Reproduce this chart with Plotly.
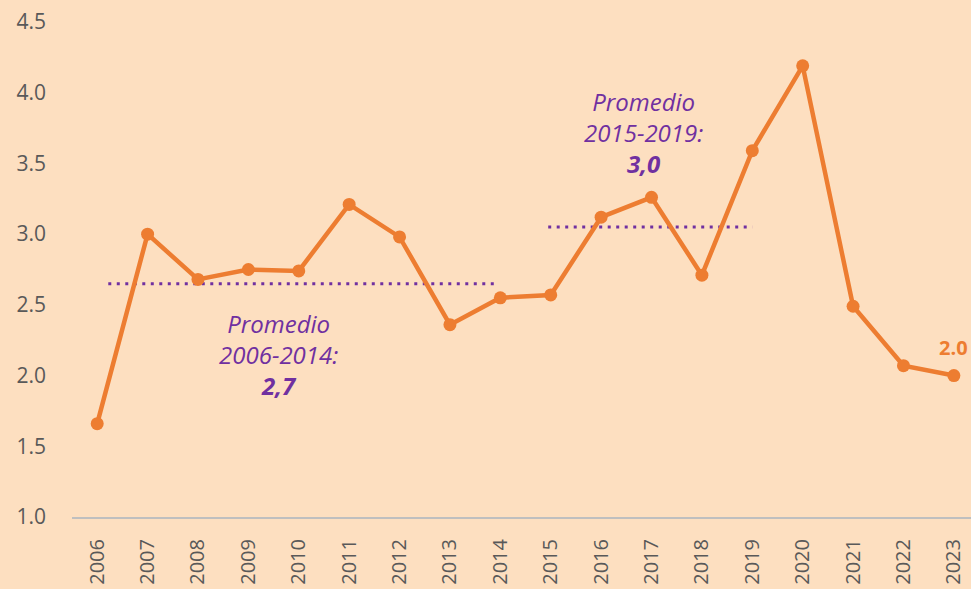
import plotly.graph_objects as go

years = ["2006", "2007", "2008", "2009", "2010", "2011", "2012", "2013", "2014",
         "2015", "2016", "2017", "2018", "2019", "2020", "2021", "2022", "2023"]
values = [1.66, 3.00, 2.68, 2.75, 2.74, 3.21, 2.98, 2.36, 2.55,
          2.57, 3.12, 3.26, 2.71, 3.59, 4.19, 2.49, 2.07, 2.00]
avg1_span = [0.22, 7.95]
avg1_value = 2.65
avg2_span = [8.95, 13.0]
avg2_value = 3.05
y_ticks = [1.0, 1.5, 2.0, 2.5, 3.0, 3.5, 4.0, 4.5]

BG = "#FDDFC0"
ORANGE = "#ED7D31"
PURPLE = "#7030A0"
GRAY = "#595959"

idx = list(range(len(years)))

fig = go.Figure()
fig.add_trace(go.Scatter(x=avg1_span, y=[avg1_value, avg1_value], mode="lines",
                         line=dict(color=PURPLE, width=3, dash="3px,5.5px"),
                         hoverinfo="skip", showlegend=False))
fig.add_trace(go.Scatter(x=avg2_span, y=[avg2_value, avg2_value], mode="lines",
                         line=dict(color=PURPLE, width=3, dash="3px,5.5px"),
                         hoverinfo="skip", showlegend=False))
fig.add_trace(go.Scatter(x=idx, y=values, mode="lines+markers",
                         line=dict(color=ORANGE, width=4.5),
                         marker=dict(color=ORANGE, size=13),
                         showlegend=False))

fig.add_annotation(x=3.6, y=2.15, xref="x", yref="y",
                   text="<i>Promedio<br>2006-2014:<br><b>2,7</b></i>",
                   showarrow=False, align="center",
                   font=dict(family="Open Sans", size=24, color=PURPLE))
fig.add_annotation(x=10.85, y=3.72, xref="x", yref="y",
                   text="<i>Promedio<br>2015-2019:<br><b>3,0</b></i>",
                   showarrow=False, align="center",
                   font=dict(family="Open Sans", size=24, color=PURPLE))
fig.add_annotation(x=idx[-1], y=values[-1], xref="x", yref="y",
                   text="<b>%.1f</b>" % values[-1], showarrow=False,
                   yshift=28, xshift=0,
                   font=dict(family="Open Sans", size=20, color=ORANGE))

fig.update_layout(
    width=971, height=589,
    margin=dict(l=72, r=0, t=22, b=72),
    paper_bgcolor=BG, plot_bgcolor=BG,
    font=dict(family="Open Sans", color=GRAY),
)
fig.update_xaxes(range=[-0.5, 17.34], tickvals=idx, ticktext=years,
                 tickangle=-90, tickfont=dict(size=20, color=GRAY),
                 showgrid=False, zeroline=False, showline=True,
                 linecolor="#BFBFBF", linewidth=2, ticks="", ticklabelstandoff=12)
fig.update_yaxes(range=[1.0, 4.5], tickvals=y_ticks,
                 ticktext=["%.1f" % v for v in y_ticks],
                 tickfont=dict(size=21, color=GRAY),
                 showgrid=False, zeroline=False, showline=False, ticks="",
                 ticklabelstandoff=25)

fig.write_html("out.html", config={"displayModeBar": False},
               post_script="document.body.style.margin='0';document.body.style.overflow='hidden';")
